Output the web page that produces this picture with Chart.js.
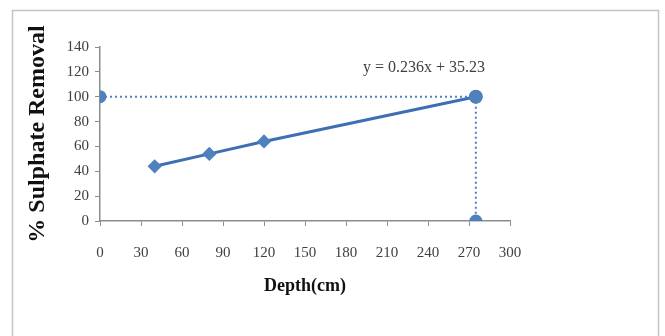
<!DOCTYPE html>
<html>
<head>
<meta charset="utf-8">
<script src="https://cdn.jsdelivr.net/npm/chart.js@4.4.1/dist/chart.umd.min.js"></script>
<style>
  html, body { margin: 0; padding: 0; background: #fff; }
  #wrap { width: 665px; height: 336px; }
</style>
</head>
<body>
<div id="wrap"><canvas id="chart" width="665" height="336"></canvas></div>
<script>
// measured points (depth in cm, % sulphate removal)
const depth = [40, 80, 120, 275];
const removal = [44, 54, 64, 100];

// dotted guide lines to the 100% point
const guideX = [0, 275, 275];
const guideY = [100, 100, 0];

const xTicks = [0, 30, 60, 90, 120, 150, 180, 210, 240, 270, 300];
const yTicks = [0, 20, 40, 60, 80, 100, 120, 140];
const equation = 'y = 0.236x + 35.23';

const blue = '#4f81bd';
const lineBlue = '#3f6fb2';
const axisGray = '#8c8c8c';
const serif = "'Liberation Serif', 'DejaVu Serif', serif";

const frame = {
    id: 'frame',
    beforeDraw(chart) {
        const c = chart.ctx;
        c.save();
        c.strokeStyle = '#c4c4c4';
        c.lineWidth = 1.5;
        c.strokeRect(12.5, 10.5, 646, 340);
        c.restore();
    },
    afterDatasetsDraw(chart) {
        const c = chart.ctx;
        const xs = chart.scales.x, ys = chart.scales.y;
        c.save();
        c.font = '16px ' + serif;
        c.fillStyle = '#404040';
        c.textAlign = 'center';
        c.textBaseline = 'middle';
        c.fillText(equation, xs.getPixelForValue(237), ys.getPixelForValue(123));
        c.restore();
    }
};

let ctx = document.getElementById('chart').getContext('2d');

let myChart = new Chart(ctx, {
    type: 'scatter',
    data: {
        datasets: [{
            label: 'guide-h',
            data: [{x: guideX[0], y: guideY[0]}, {x: guideX[1], y: guideY[1]}],
            showLine: true,
            borderColor: blue,
            borderWidth: 2,
            borderDash: [2, 3],
            pointStyle: 'circle',
            pointRadius: 5.5,
            backgroundColor: blue,
            pointBorderColor: blue
        }, {
            label: 'guide-v',
            data: [{x: guideX[1], y: guideY[1]}, {x: guideX[2], y: guideY[2]}],
            showLine: true,
            borderColor: blue,
            borderWidth: 2,
            borderDash: [2, 3],
            pointStyle: 'circle',
            pointRadius: 5.5,
            backgroundColor: blue,
            pointBorderColor: blue
        }, {
            label: 'removal',
            data: depth.map(function (d, i) { return {x: d, y: removal[i]}; }),
            showLine: true,
            borderColor: lineBlue,
            borderWidth: 3,
            pointStyle: depth.map(function (d, i) { return i === depth.length - 1 ? 'circle' : 'rectRot'; }),
            pointRadius: depth.map(function (d, i) { return i === depth.length - 1 ? 5.5 : 5; }),
            backgroundColor: blue,
            pointBorderColor: blue
        }]
    },
    options: {
        responsive: false,
        animation: false,
        layout: { padding: { left: 22, top: 47, right: 155, bottom: 35 } },
        plugins: {
            legend: { display: false },
            tooltip: { enabled: false }
        },
        scales: {
            x: {
                type: 'linear',
                min: 0,
                max: 300,
                afterBuildTicks: function (scale) {
                    scale.ticks = xTicks.map(function (v) { return {value: v}; });
                },
                afterFit: function (scale) { scale.height = 80; },
                grid: { drawOnChartArea: false, drawTicks: true, tickLength: 5, color: axisGray },
                border: { display: true, color: axisGray, width: 1.5 },
                ticks: {
                    color: '#404040',
                    font: { family: serif, size: 15 },
                    padding: 18,
                    maxRotation: 0
                },
                title: {
                    display: true,
                    text: 'Depth(cm)',
                    color: '#111',
                    font: { family: serif, size: 18, weight: 'bold' },
                    padding: { top: 6 }
                }
            },
            y: {
                min: 0,
                max: 140,
                afterBuildTicks: function (scale) {
                    scale.ticks = yTicks.map(function (v) { return {value: v}; });
                },
                afterFit: function (scale) { scale.width = 78; },
                grid: { drawOnChartArea: false, drawTicks: true, tickLength: 5, color: axisGray },
                border: { display: true, color: axisGray, width: 1.5 },
                ticks: {
                    color: '#404040',
                    font: { family: serif, size: 15 },
                    padding: 6
                },
                title: {
                    display: true,
                    text: '% Sulphate Removal',
                    color: '#111',
                    font: { family: serif, size: 24, weight: 'bold' },
                    padding: { top: 1, bottom: 0 }
                }
            }
        }
    },
    plugins: [frame]
});
</script>
</body>
</html>
